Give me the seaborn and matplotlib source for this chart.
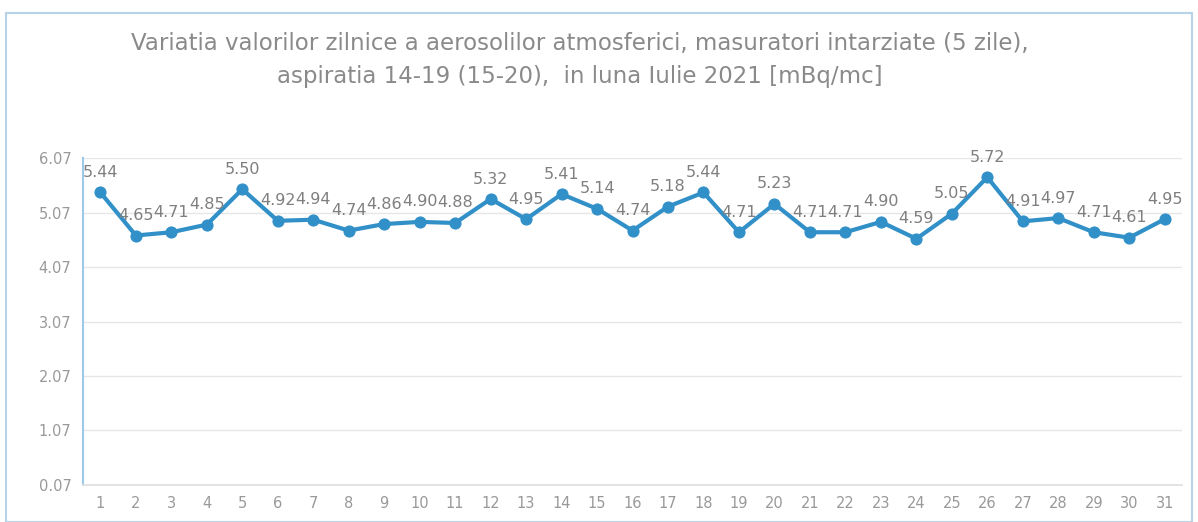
import matplotlib
matplotlib.use("Agg")
import matplotlib.pyplot as plt
import seaborn as sns
import pandas as pd

days = list(range(1, 32))
values = [5.44, 4.65, 4.71, 4.85, 5.50, 4.92, 4.94, 4.74, 4.86, 4.90, 4.88,
          5.32, 4.95, 5.41, 5.14, 4.74, 5.18, 5.44, 4.71, 5.23, 4.71, 4.71,
          4.90, 4.59, 5.05, 5.72, 4.91, 4.97, 4.71, 4.61, 4.95]
yticks = [0.07, 1.07, 2.07, 3.07, 4.07, 5.07, 6.07]
title = ("Variatia valorilor zilnice a aerosolilor atmosferici, masuratori intarziate (5 zile),\n"
         "aspiratia 14-19 (15-20),  in luna Iulie 2021 [mBq/mc]")

df = pd.DataFrame({"day": days, "value": values})

sns.set_theme(style="white")
plt.rcParams['font.family'] = ['DejaVu Sans']

fig = plt.figure(figsize=(11.98, 5.22), dpi=100)
ax = fig.add_axes([0.069, 0.071, 0.918, 0.626])

line_color = "#3290C8"
sns.lineplot(data=df, x="day", y="value", ax=ax, color=line_color, linewidth=3.0,
             marker="o", markersize=8, markeredgecolor=line_color, markerfacecolor=line_color)

for d, v in zip(days, values):
    ax.annotate(f"{v:.2f}", (d, v), xytext=(0, 9), textcoords="offset points",
                ha="center", va="bottom", fontsize=11.5, color="#7F7F7F")

ax.set_xlim(0.5, 31.5)
ax.set_ylim(0.07, 6.07)
ax.set_yticks(yticks)
ax.set_yticklabels([f"{t:.2f}" for t in yticks])
ax.set_xticks(days)
ax.set_xticklabels([str(d) for d in days])
ax.tick_params(axis="both", labelsize=10.5, colors="#999999", length=0, pad=8)
ax.set_xlabel("")
ax.set_ylabel("")
ax.grid(axis="y", color="#E6E6E6", linewidth=1)
for s in ["top", "right"]:
    ax.spines[s].set_visible(False)
ax.spines["left"].set_color("#9CC9E8")
ax.spines["left"].set_linewidth(1.5)
ax.spines["bottom"].set_color("#E0E0E0")

fig.text(0.484, 0.885, title, ha="center", va="center", fontsize=16.5,
         color="#8A8A8A", linespacing=1.6, family=["Liberation Sans Narrow", "DejaVu Sans"])

# outer chart frame
frame = plt.Rectangle((0.005, 0.0), 0.99, 0.975, transform=fig.transFigure,
                      fill=False, edgecolor="#B7D3E8", linewidth=1.5)
fig.patches.append(frame)

fig.savefig("out.png", dpi=100)
